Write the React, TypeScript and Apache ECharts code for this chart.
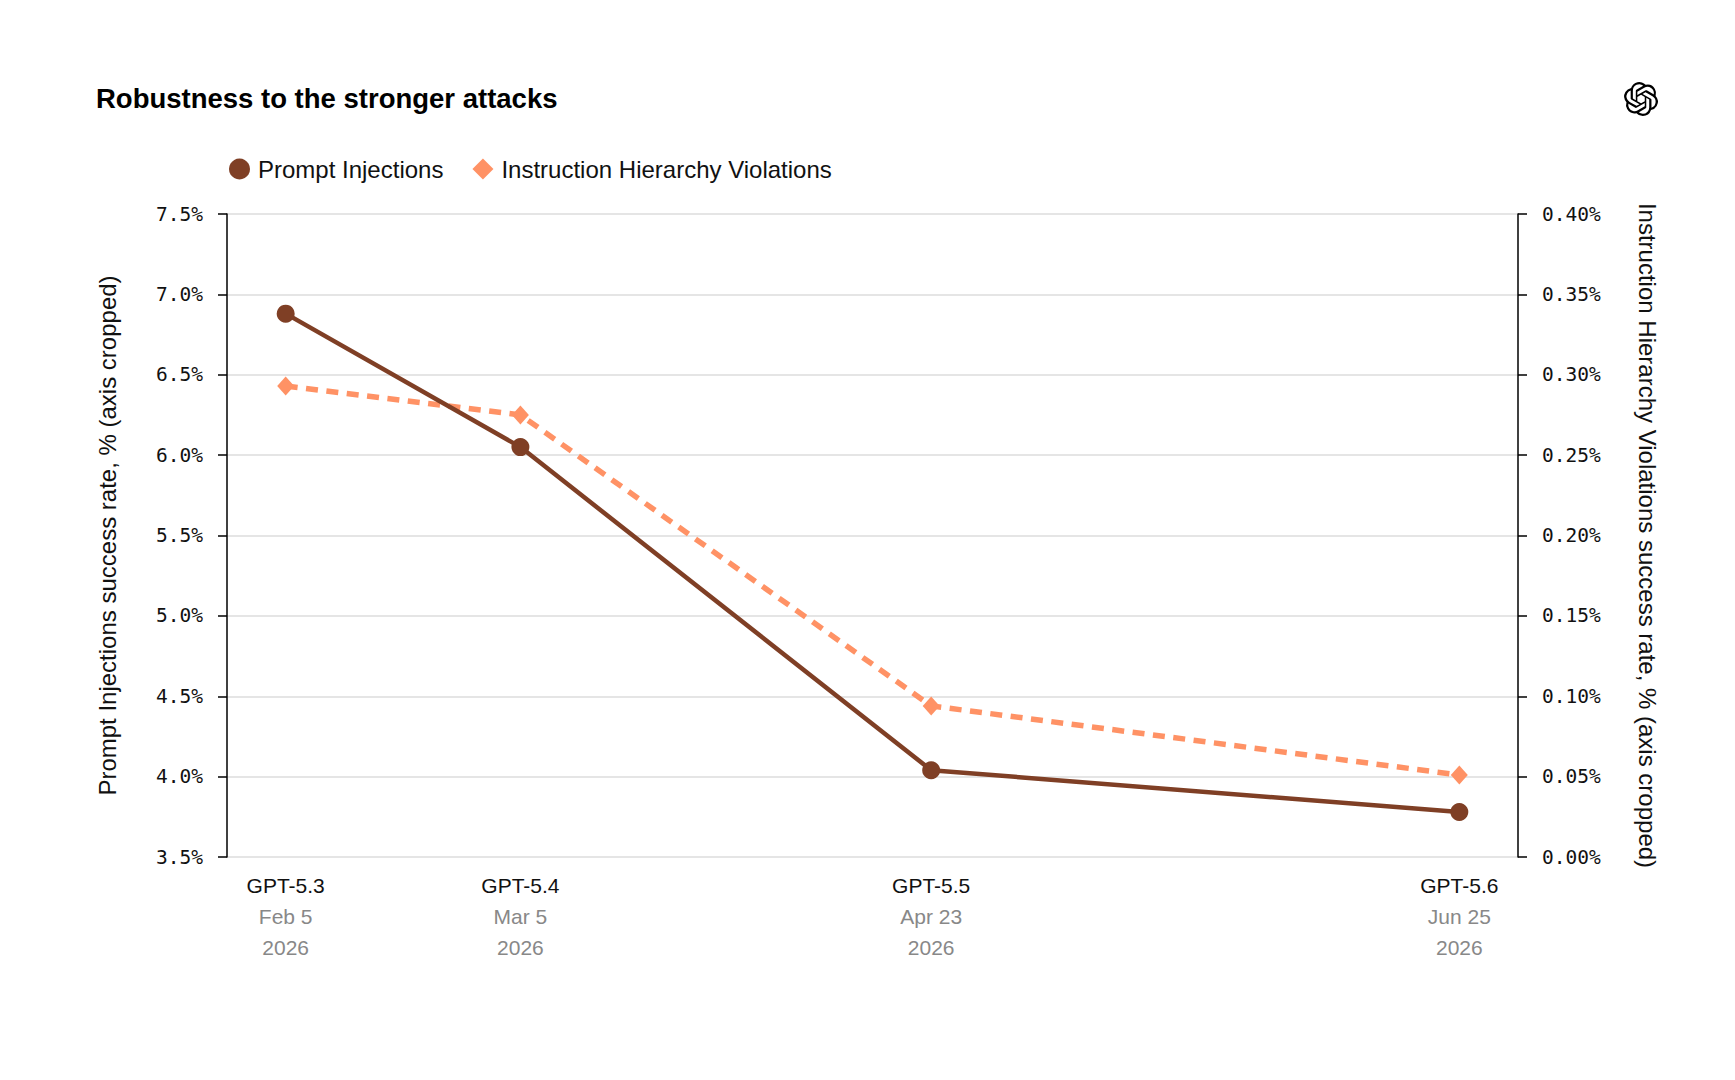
import React, { useEffect, useRef } from "react";
import * as echarts from "echarts";

const models = ["GPT-5.3", "GPT-5.4", "GPT-5.5", "GPT-5.6"];
const releaseDates = ["2026-02-05", "2026-03-05", "2026-04-23", "2026-06-25"];
const dateLabels = ["Feb 5", "Mar 5", "Apr 23", "Jun 25"];
const yearLabels = ["2026", "2026", "2026", "2026"];
const promptInjections = [6.88, 6.05, 4.04, 3.78];
const hierarchyViolations = [0.293, 0.275, 0.094, 0.051];

const DAY = 86400000;
const dayOffsets = releaseDates.map((d) => Math.round((Date.parse(d) - Date.parse(releaseDates[0])) / DAY));

const LOGO_D =
  "M22.2819 9.8211a5.9847 5.9847 0 0 0-.5157-4.9108 6.0462 6.0462 0 0 0-6.5098-2.9A6.0651 6.0651 0 0 0 4.9807 4.1818a5.9847 5.9847 0 0 0-3.9977 2.9 6.0462 6.0462 0 0 0 .7427 7.0966 5.98 5.98 0 0 0 .511 4.9107 6.051 6.051 0 0 0 6.5146 2.9001A5.9847 5.9847 0 0 0 13.2599 24a6.0557 6.0557 0 0 0 5.7718-4.2058 5.9894 5.9894 0 0 0 3.9977-2.9001 6.0557 6.0557 0 0 0-.7475-7.0729zm-9.022 12.6081a4.4755 4.4755 0 0 1-2.8764-1.0408l.1419-.0804 4.7783-2.7582a.7948.7948 0 0 0 .3927-.6813v-6.7369l2.02 1.1686a.071.071 0 0 1 .038.052v5.5826a4.504 4.504 0 0 1-4.4945 4.4944zm-9.6607-4.1254a4.4708 4.4708 0 0 1-.5346-3.0137l.142.0852 4.783 2.7582a.7712.7712 0 0 0 .7806 0l5.8428-3.3685v2.3324a.0804.0804 0 0 1-.0332.0615L9.74 19.9502a4.4992 4.4992 0 0 1-6.1408-1.6464zM2.3408 7.8956a4.485 4.485 0 0 1 2.3655-1.9728V11.6a.7664.7664 0 0 0 .3879.6765l5.8144 3.3543-2.0201 1.1685a.0757.0757 0 0 1-.071 0l-4.8303-2.7865A4.504 4.504 0 0 1 2.3408 7.872zm16.5963 3.8558L13.1038 8.364 15.1192 7.2a.0757.0757 0 0 1 .071 0l4.8303 2.7913a4.4944 4.4944 0 0 1-.6765 8.1042v-5.6772a.79.79 0 0 0-.407-.667zm2.0107-3.0231l-.142-.0852-4.7735-2.7818a.7759.7759 0 0 0-.7854 0L9.409 9.2297V6.8974a.0662.0662 0 0 1 .0284-.0615l4.8303-2.7866a4.4992 4.4992 0 0 1 6.6802 4.66zM8.3065 12.863l-2.02-1.1638a.0804.0804 0 0 1-.038-.0567V6.0742a4.4992 4.4992 0 0 1 7.3757-3.4537l-.142.0805L8.704 5.459a.7948.7948 0 0 0-.3927.6813zm1.0976-2.3654l2.602-1.4998 2.6069 1.4998v2.9994l-2.5974 1.4997-2.6067-1.4997Z";

let logoRegistered = false;

const SANS = "'Liberation Sans', Arial, Helvetica, sans-serif";
const MONO = "'DejaVu Sans Mono', monospace";
const BROWN = "#7f3f25";
const ORANGE = "#ff9265";

export default function App() {
  const ref = useRef<HTMLDivElement>(null);

  useEffect(() => {
    if (!ref.current) return;
    if (!logoRegistered) {
      echarts.graphic.registerShape("logo", echarts.graphic.extendPath(LOGO_D, {}) as any);
      logoRegistered = true;
    }
    const chart = echarts.init(ref.current, null, { renderer: "svg" });
    const option: any = {
      animation: false,
      backgroundColor: "#ffffff",
      title: {
        text: "Robustness to the stronger attacks",
        left: 91,
        top: 79,
        textStyle: { fontFamily: SANS, fontSize: 27.5, fontWeight: "bold", color: "#000" },
      },
      legend: {
        left: 224,
        top: 152,
        itemWidth: 21,
        itemHeight: 21,
        itemGap: 29,
        textStyle: { fontFamily: SANS, fontSize: 24, color: "#111", padding: [0, 0, 0, 3] },
        data: [
          { name: "Prompt Injections", icon: "circle", itemStyle: { color: BROWN } },
          { name: "Instruction Hierarchy Violations", icon: "diamond", itemStyle: { color: ORANGE } },
        ],
      },
      grid: { left: 227, right: 217, top: 214, bottom: 223, containLabel: false },
      xAxis: {
        type: "value",
        min: -7,
        max: 147,
        axisLine: { show: false },
        axisTick: { show: false },
        splitLine: { show: false },
        axisLabel: {
          customValues: dayOffsets,
          margin: 13,
          formatter: (v: number) => {
            const i = dayOffsets.indexOf(Math.round(v));
            if (i < 0) return "";
            return `{m|${models[i]}}\n{d|${dateLabels[i]}}\n{d|${yearLabels[i]}}`;
          },
          rich: {
            m: { fontFamily: SANS, fontSize: 21, color: "#111", lineHeight: 31 },
            d: { fontFamily: SANS, fontSize: 21, color: "#888", lineHeight: 31 },
          },
        },
      },
      yAxis: [
        {
          type: "value",
          min: 3.5,
          max: 7.5,
          interval: 0.5,
          position: "left",
          name: "Prompt Injections success rate, % (axis cropped)",
          nameLocation: "middle",
          nameGap: 108,
          nameTextStyle: { fontFamily: SANS, fontSize: 24, color: "#111" },
          axisLine: { show: true, onZero: false, lineStyle: { color: "#000", width: 1.5 } },
          axisTick: { show: true, length: 9, lineStyle: { color: "#000", width: 1.5 } },
          axisLabel: {
            margin: 24,
            fontFamily: MONO,
            fontSize: 19.5,
            color: "#111",
            formatter: (v: number) => v.toFixed(1) + "%",
          },
          splitLine: { show: true, lineStyle: { color: "#dddddd", width: 1.5 } },
        },
        {
          type: "value",
          min: 0,
          max: 0.4,
          interval: 0.05,
          position: "right",
          name: "Instruction Hierarchy Violations success rate, % (axis cropped)",
          nameLocation: "middle",
          nameRotate: -90,
          nameGap: 117,
          nameTextStyle: { fontFamily: SANS, fontSize: 24, color: "#111" },
          axisLine: { show: true, onZero: false, lineStyle: { color: "#000", width: 1.5 } },
          axisTick: { show: true, length: 9, lineStyle: { color: "#000", width: 1.5 } },
          axisLabel: {
            margin: 24,
            fontFamily: MONO,
            fontSize: 19.5,
            color: "#111",
            formatter: (v: number) => v.toFixed(2) + "%",
          },
          splitLine: { show: false },
        },
      ],
      series: [
        {
          name: "Prompt Injections",
          type: "line",
          yAxisIndex: 0,
          data: dayOffsets.map((d, i) => [d, promptInjections[i]]),
          symbol: "circle",
          symbolSize: 18,
          showAllSymbol: true,
          itemStyle: { color: BROWN },
          lineStyle: { color: BROWN, width: 4.5 },
          z: 3,
        },
        {
          name: "Instruction Hierarchy Violations",
          type: "line",
          yAxisIndex: 1,
          data: dayOffsets.map((d, i) => [d, hierarchyViolations[i]]),
          symbol: "diamond",
          symbolSize: [17, 19],
          showAllSymbol: true,
          itemStyle: { color: ORANGE },
          lineStyle: { color: ORANGE, width: 5.5, type: [12, 8.5] },
          z: 2,
        },
      ],
      graphic: [
        {
          type: "logo",
          x: 1624,
          y: 82,
          scaleX: 1.42,
          scaleY: 1.42,
          style: { fill: "#000" },
        },
      ],
    };
    chart.setOption(option);
    return () => chart.dispose();
  }, []);

  return (
    <div
      ref={ref}
      style={{ position: "absolute", left: 0, top: 0, width: 1735, height: 1080, background: "#fff" }}
    />
  );
}
